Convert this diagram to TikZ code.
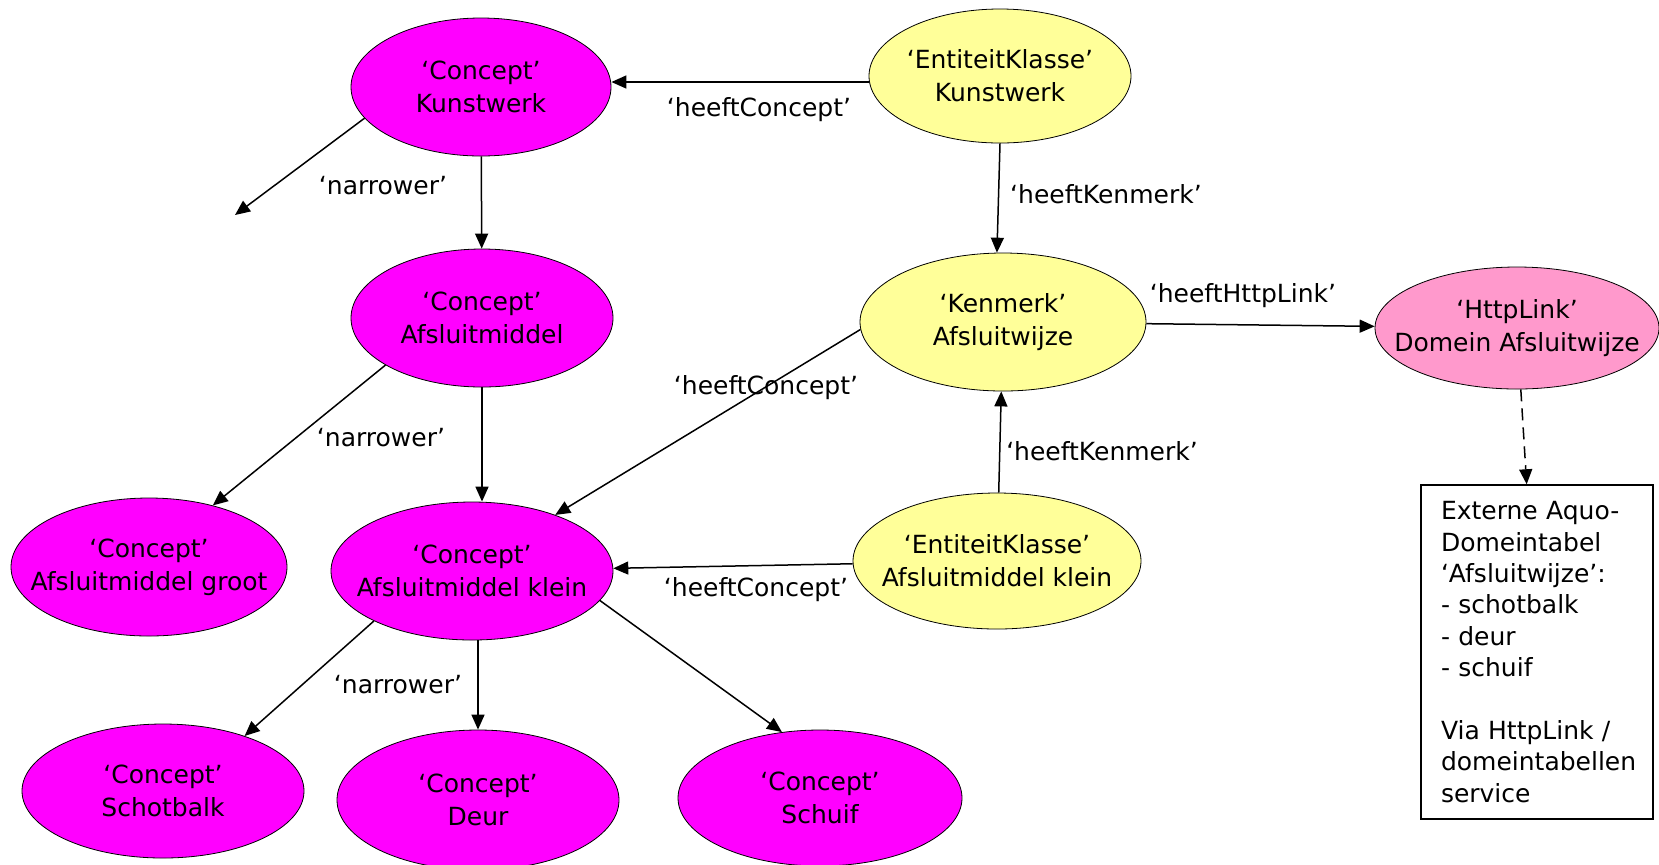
\documentclass[tikz,border=0pt]{standalone}
\usepackage{fontspec}
\setmainfont{DejaVu Sans}
\usepackage{xcolor}
\usetikzlibrary{shapes.geometric}
\usetikzlibrary{arrows.meta,calc}

\definecolor{conceptmag}{HTML}{FF00FF}
\definecolor{klasseyel}{HTML}{FFFF99}
\definecolor{linkpink}{HTML}{FF99CC}

\begin{document}
\begin{tikzpicture} [
       x=0.5pt, y=-0.5pt,
       font=\fontsize{12.5}{16.4}\selectfont,
       every node/.style={align=center},
       blob/.style={ellipse, draw=black, inner xsep=-30pt, inner ysep=-8pt},
       concept/.style={blob, fill=conceptmag},
       klasse/.style={blob, fill=klasseyel},
       httplink/.style={blob, fill=linkpink},
       lbl/.style={inner sep=1pt},
       line/.style={draw, line width=0.75pt, -{Triangle[length=7.5pt,width=6.5pt]}},
       ]
       \useasboundingbox (0,0) rectangle (1659,864);
       % ellipses
       \node (ckunst) [concept, minimum width=130pt, minimum height=69pt] at (481,87) {‘Concept’\\Kunstwerk};
       \node (ekkunst) [klasse, minimum width=131pt, minimum height=67pt] at (1000,76) {‘EntiteitKlasse’\\Kunstwerk};
       \node (cafsl) [concept, minimum width=131pt, minimum height=69pt] at (482,318) {‘Concept’\\Afsluitmiddel};
       \node (kenmerk) [klasse, minimum width=143pt, minimum height=69pt] at (1003,322) {‘Kenmerk’\\Afsluitwijze};
       \node (http) [httplink, minimum width=142pt, minimum height=61pt] at (1517,328) {‘HttpLink’\\Domein Afsluitwijze};
       \node (cgroot) [concept, minimum width=138pt, minimum height=69pt] at (149,567) {‘Concept’\\Afsluitmiddel groot};
       \node (cklein) [concept, minimum width=141pt, minimum height=69pt] at (472,571) {‘Concept’\\Afsluitmiddel klein};
       \node (ekklein) [klasse, minimum width=144pt, minimum height=68pt] at (997,561) {‘EntiteitKlasse’\\Afsluitmiddel klein};
       \node (cschot) [concept, minimum width=141pt, minimum height=67pt] at (163,791) {‘Concept’\\Schotbalk};
       \node (cdeur) [concept, minimum width=141pt, minimum height=70pt] at (478,800) {‘Concept’\\Deur};
       \node (cschuif) [concept, minimum width=142pt, minimum height=68pt] at (820,798) {‘Concept’\\Schuif};
       % external table
       \node (domtabel) [draw, line width=0.75pt, align=left, text width=96pt, inner xsep=10pt,
               minimum height=167pt, font=\fontsize{12.5}{15.7}\selectfont] at (1537,652)
               {Externe Aquo-\\Domeintabel\\‘Afsluitwijze’:\\- schotbalk\\- deur\\- schuif\\[15.7pt]Via HttpLink /\\domeintabellen\\service};
       \coordinate (open) at (235,215);
       % labels
       \node (lhc1) [lbl] at (759,110) {‘heeftConcept’};
       \node (ln1) [lbl] at (383,186) {‘narrower’};
       \node (lhk1) [lbl] at (1106,194) {‘heeftKenmerk’};
       \node (lhttp) [lbl] at (1243,296) {‘heeftHttpLink’};
       \node (ln2) [lbl] at (381,438) {‘narrower’};
       \node (lhc2) [lbl] at (766,388) {‘heeftConcept’};
       \node (lhk2) [lbl] at (1102,451) {‘heeftKenmerk’};
       \node (lhc3) [lbl] at (756,590) {‘heeftConcept’};
       \node (ln3) [lbl] at (398,685) {‘narrower’};
       \begin{scope}[every path/.style=line]
       \path (ekkunst.west |- 0,82) -- (ckunst.east |- 0,82);
       \path (ckunst.195) -- (open);
       \path (ckunst) -- (cafsl);
       \path (ekkunst.south) -- (kenmerk.95);
       \path (kenmerk) -- (http);
       \path (cafsl.206) -- (cgroot.44);
       \path (cafsl.south) -- (cafsl.south |- cklein.north);
       \path (kenmerk.183) -- (cklein.34);
       \path (ekklein) -- (kenmerk);
       \path (ekklein) -- (cklein);
       \path (cklein.207) -- (cschot.34);
       \path (cklein.south -| cdeur.north) -- (cdeur.north);
       \path (cklein.-13) -- (cschuif.120);
       \path[dash pattern=on 6pt off 3.5pt] (http) -- (domtabel);
       \end{scope}
\end{tikzpicture}
\end{document}
